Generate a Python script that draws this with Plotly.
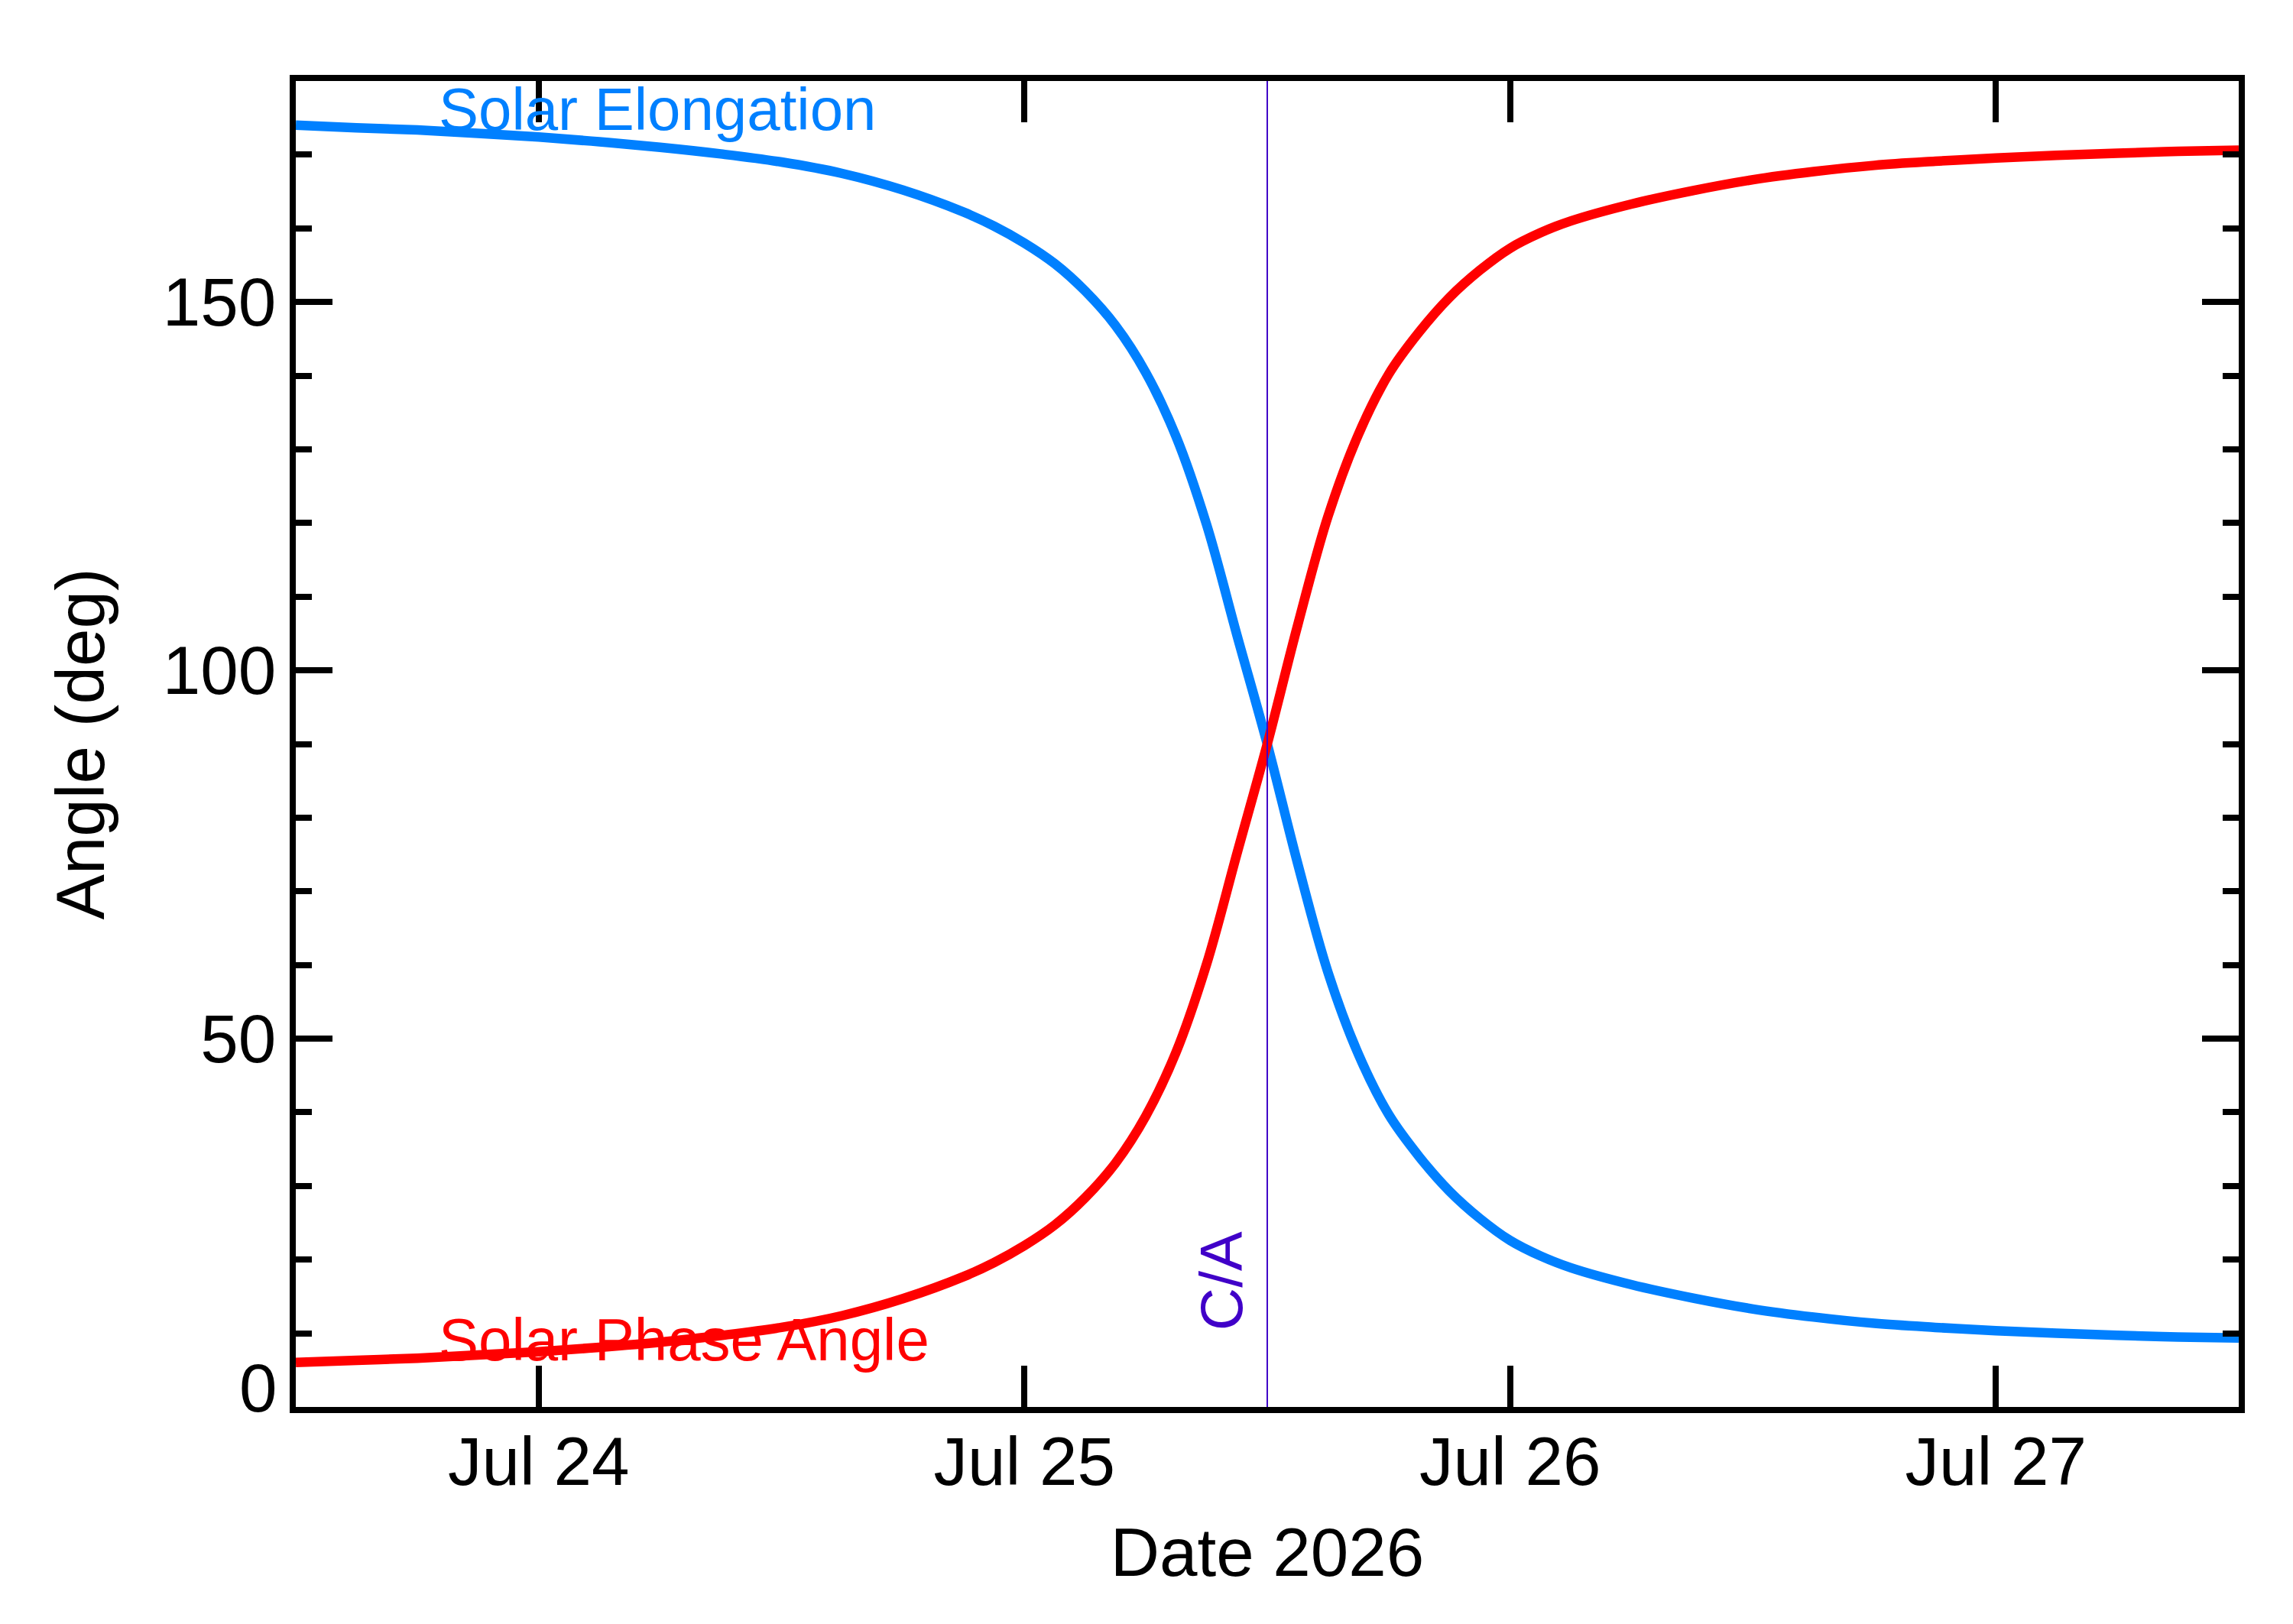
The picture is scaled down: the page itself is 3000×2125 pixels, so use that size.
import plotly.graph_objects as go

obs_time = [
    "2026-07-23 12:00", "2026-07-23 15:00", "2026-07-23 18:00", "2026-07-23 21:00",
    "2026-07-24 00:00", "2026-07-24 03:00", "2026-07-24 06:00", "2026-07-24 09:00",
    "2026-07-24 12:00", "2026-07-24 15:00", "2026-07-24 18:00", "2026-07-24 21:00",
    "2026-07-24 22:30", "2026-07-25 00:00", "2026-07-25 01:30", "2026-07-25 03:00",
    "2026-07-25 04:30", "2026-07-25 06:00", "2026-07-25 07:30", "2026-07-25 09:00",
    "2026-07-25 10:30", "2026-07-25 12:00", "2026-07-25 13:30", "2026-07-25 15:00",
    "2026-07-25 16:30", "2026-07-25 18:00", "2026-07-25 19:30", "2026-07-25 21:00",
    "2026-07-25 22:30", "2026-07-26 00:00", "2026-07-26 01:30", "2026-07-26 03:00",
    "2026-07-26 06:00", "2026-07-26 09:00", "2026-07-26 12:00", "2026-07-26 15:00",
    "2026-07-26 18:00", "2026-07-26 21:00", "2026-07-27 00:00", "2026-07-27 03:00",
    "2026-07-27 06:00", "2026-07-27 09:00", "2026-07-27 12:00",
]
elong_deg = [
    174.0, 173.65, 173.35, 172.9,
    172.4, 171.75, 171.0, 170.1,
    169.0, 167.45, 165.2, 162.2,
    160.3, 158.0, 155.2, 151.5,
    146.8, 140.4, 131.7, 119.8,
    104.8, 90.0, 73.8, 59.0,
    47.9, 39.7, 34.0, 29.3,
    25.6, 22.6, 20.5, 18.9,
    16.6, 14.8, 13.3, 12.2,
    11.35, 10.8, 10.35, 10.0,
    9.73, 9.5, 9.37,
]
phase_deg = [
    6.05, 6.33, 6.62, 7.05,
    7.5, 8.1, 8.8, 9.7,
    10.8, 12.4, 14.7, 17.7,
    19.6, 21.9, 24.7, 28.4,
    33.1, 39.5, 48.2, 60.1,
    75.1, 90.0, 106.1, 120.9,
    132.0, 140.2, 145.9, 150.6,
    154.3, 157.3, 159.4, 161.0,
    163.3, 165.1, 166.6, 167.7,
    168.55, 169.1, 169.55, 169.9,
    170.2, 170.45, 170.6,
]

ca_time = "2026-07-25 12:00"
x_range = ["2026-07-23 12:00", "2026-07-27 12:00"]
y_range = [0, 180]
y_ticks = [0, 50, 100, 150]

BLUE = "#0080FF"
RED = "#FF0000"
PURPLE = "#4000C8"
FONT = "Liberation Sans, Arial, Helvetica, sans-serif"

fig = go.Figure()
fig.add_trace(go.Scatter(x=obs_time, y=elong_deg, mode="lines",
                         line=dict(color=BLUE, width=12.5, shape="spline", smoothing=1.0),
                         name="Solar Elongation"))
fig.add_trace(go.Scatter(x=obs_time, y=phase_deg, mode="lines",
                         line=dict(color=RED, width=12.5, shape="spline", smoothing=1.0),
                         name="Solar Phase Angle"))

# closest approach marker
fig.add_trace(go.Scatter(x=[ca_time, ca_time], y=y_range, mode="lines",
                         line=dict(color=PURPLE, width=2), showlegend=False))

fig.add_annotation(x="2026-07-23 19:00", y=176.2, xref="x", yref="y",
                   text="Solar Elongation", showarrow=False,
                   xanchor="left", yanchor="middle",
                   font=dict(family=FONT, size=78, color=BLUE))
fig.add_annotation(x="2026-07-23 19:00", y=9.1, xref="x", yref="y",
                   text="Solar Phase Angle", showarrow=False,
                   xanchor="left", yanchor="middle",
                   font=dict(family=FONT, size=78, color=RED))
fig.add_annotation(x=ca_time, y=17.1, xref="x", yref="y",
                   text="C/A", showarrow=False, textangle=-90,
                   xanchor="center", yanchor="middle", xshift=-60,
                   font=dict(family=FONT, size=78, color=PURPLE))
# the zero label sits a little above the axis in the original
fig.add_annotation(x=0, y=0, xref="paper", yref="y",
                   text="0", showarrow=False, xanchor="right", yanchor="middle",
                   xshift=-22, yshift=25,
                   font=dict(family=FONT, size=89, color="black"))

axis_common = dict(
    showline=True, linecolor="black", linewidth=8, mirror="ticks",
    ticks="inside", tickcolor="black", tickwidth=8,
    showgrid=False, zeroline=False,
    tickfont=dict(family=FONT, size=89, color="black"),
)

fig.update_xaxes(
    range=x_range, type="date", tick0="2026-07-24", dtick=86400000,
    tickformat="%b %d", ticklen=54, ticklabelstandoff=-13,
    title=dict(text="Date 2026", standoff=42,
               font=dict(family=FONT, size=89, color="black")),
    **axis_common,
)
fig.update_yaxes(
    range=y_range, tickvals=y_ticks, ticktext=["", "50", "100", "150"], ticklen=48,
    minor=dict(dtick=10, ticks="inside", ticklen=21, tickwidth=8, tickcolor="black"),
    title=dict(text="Angle (deg)", standoff=50,
               font=dict(family=FONT, size=89, color="black")),
    **axis_common,
)

fig.update_layout(
    width=3000, height=2125,
    margin=dict(l=379, r=79, t=98, b=292),
    plot_bgcolor="white", paper_bgcolor="white",
    showlegend=False,
)

fig.write_html("out.html")
